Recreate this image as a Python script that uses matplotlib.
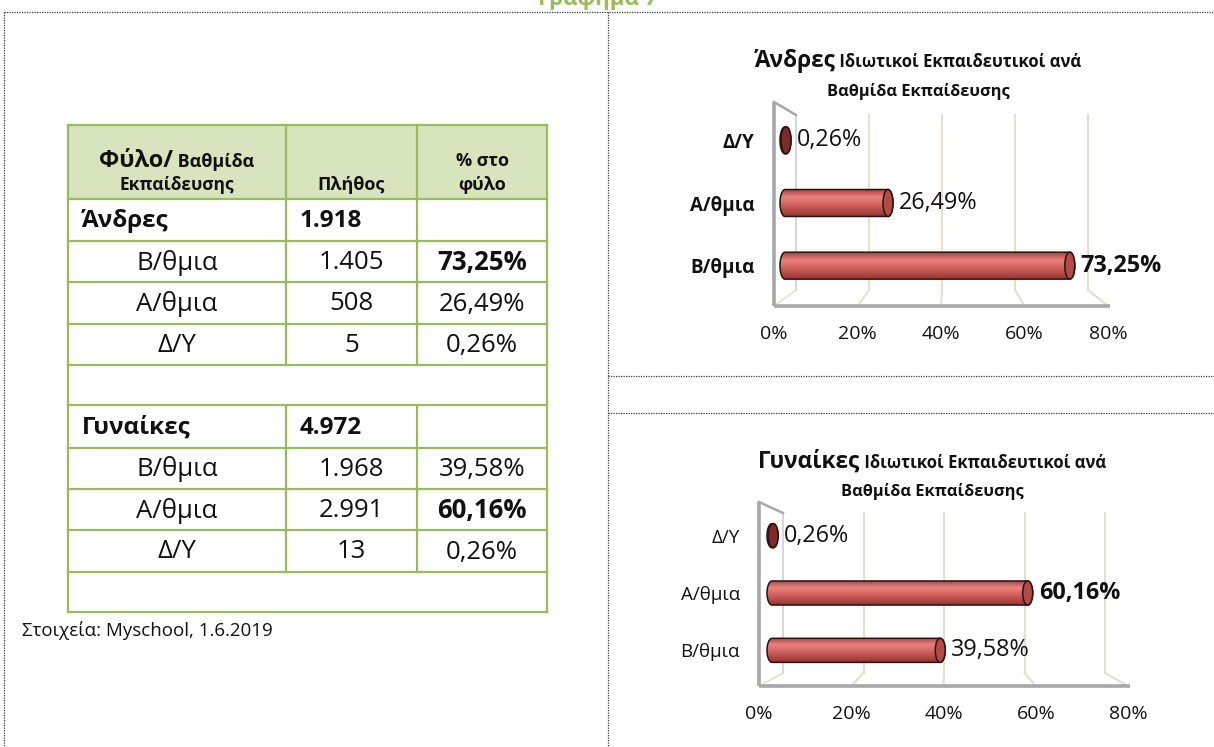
import numpy as np
import matplotlib
matplotlib.use("Agg")
import matplotlib.pyplot as plt
from matplotlib.patches import Rectangle, Ellipse, PathPatch
from matplotlib.path import Path
from matplotlib.colors import LinearSegmentedColormap

plt.rcParams['font.family'] = ['Open Sans', 'DejaVu Sans']

# ---------------- data ----------------
levels = ["Β/θμια", "Α/θμια", "Δ/Υ"]
groups = ["Άνδρες", "Γυναίκες"]
group_totals = [1918, 4972]
men_counts = [1405, 508, 5]
women_counts = [1968, 2991, 13]
men_pct = [73.25, 26.49, 0.26]
women_pct = [39.58, 60.16, 0.26]
pct_ticks = [0, 20, 40, 60, 80]
header_col1_big = "Φύλο/"
header_col1_small = " Βαθμίδα"
header_col1_line2 = "Εκπαίδευσης"
header_col2 = "Πλήθος"
header_col3 = ["% στο", "φύλο"]
source_text = "Στοιχεία: Myschool, 1.6.2019"
page_title = "Γράφημα 7"
chart_sub1 = " Ιδιωτικοί Εκπαιδευτικοί ανά"
chart_sub2 = "Βαθμίδα Εκπαίδευσης"

# ---------------- helpers ----------------
def fmt_int(n):
    return f"{n:,}".replace(",", ".")

def fmt_pct(p):
    return f"{p:.2f}%".replace(".", ",")

W, H = 1214, 747
fig = plt.figure(figsize=(W / 100, H / 100), dpi=100)
renderer = fig.canvas.get_renderer()

def fig_ax(x0, y0, x1, y1):
    return fig.add_axes([x0 / W, 1 - y1 / H, (x1 - x0) / W, (y1 - y0) / H])

page = fig_ax(0, 0, W, H)
page.set_xlim(0, W)
page.set_ylim(H, 0)
page.axis('off')

TXT = '#111111'
GREEN = '#9BBB59'

def mixed_line(cx, y, parts):
    texts = [page.text(0, y, s, fontsize=fs, fontweight=fw, va='baseline',
                       ha='left', color=TXT) for s, fs, fw in parts]
    widths = [t.get_window_extent(renderer).width for t in texts]
    x = cx - sum(widths) / 2
    for t, w in zip(texts, widths):
        t.set_x(x)
        x += w

# ---------------- page frame (dotted) ----------------
dot = dict(color='#3a3a3a', lw=0.9, ls=(0, (1, 1)))
page.plot([4, W], [12, 12], **dot)
page.plot([4, 4], [12, H], **dot)
page.plot([608, 608], [12, H], **dot)
page.plot([608, W], [376, 376], **dot)
page.plot([608, W], [413, 413], **dot)

page.text(598, 5, page_title, fontsize=16, fontweight='bold', color=GREEN,
          ha='center', va='baseline')

# ---------------- table ----------------
col_x = [68, 286, 417, 547]
row_y = [125, 199, 241, 282, 324, 365, 405, 448, 489, 530, 572, 612]
page.add_patch(Rectangle((col_x[0], row_y[0]), col_x[-1] - col_x[0],
                         row_y[1] - row_y[0], fc='#D7E4BD', ec='none'))
tl = dict(color=GREEN, lw=1.6, solid_capstyle='projecting')
for y in row_y:
    page.plot([col_x[0], col_x[-1]], [y, y], **tl)
for x in (col_x[0], col_x[-1]):
    page.plot([x, x], [row_y[0], row_y[-1]], **tl)
for x in col_x[1:-1]:
    page.plot([x, x], [row_y[0], row_y[5]], **tl)
    page.plot([x, x], [row_y[6], row_y[10]], **tl)

c1 = (col_x[0] + col_x[1]) / 2
c2 = (col_x[1] + col_x[2]) / 2
c3 = (col_x[2] + col_x[3]) / 2

HS = 13
mixed_line(c1, 167, [(header_col1_big, 17, 'bold'), (header_col1_small, HS, 'bold')])
page.text(c1, 190, header_col1_line2, fontsize=12.5, fontweight='bold', ha='center', va='baseline', color=TXT)
page.text(c2, 190, header_col2, fontsize=HS, fontweight='bold', ha='center', va='baseline', color=TXT)
page.text(c3, 166, header_col3[0], fontsize=HS, fontweight='bold', ha='center', va='baseline', color=TXT)
page.text(c3, 190, header_col3[1], fontsize=HS, fontweight='bold', ha='center', va='baseline', color=TXT)

for g, (name, total, counts, pcts) in enumerate(zip(groups, group_totals,
                                                    [men_counts, women_counts],
                                                    [men_pct, women_pct])):
    base = 1 + g * 5
    ym = (row_y[base] + row_y[base + 1]) / 2 + 1
    page.text(col_x[0] + 14, ym, name, fontsize=17.5, fontweight='bold', ha='left', va='center', color=TXT)
    page.text(col_x[1] + 14, ym, fmt_int(total), fontsize=17.5, fontweight='bold', ha='left', va='center', color=TXT)
    imax = int(np.argmax(pcts))
    for k, (lev, n, p) in enumerate(zip(levels, counts, pcts)):
        r = base + 1 + k
        ym = (row_y[r] + row_y[r + 1]) / 2 + 1
        page.text(c1, ym, lev, fontsize=18.5, ha='center', va='center', color=TXT)
        page.text(c2, ym, fmt_int(n), fontsize=18.5, ha='center', va='center', color=TXT)
        page.text(c3, ym, fmt_pct(p), fontsize=18.5, ha='center', va='center', color=TXT,
                  fontweight='bold' if k == imax else 'normal')

page.text(22, 631, source_text, fontsize=13.5, ha='left', va='center', color=TXT)

# ---------------- charts ----------------
cyl_cmap = LinearSegmentedColormap.from_list(
    'cyl', [(0.0, '#A8403D'), (0.3, '#E8837F'), (0.55, '#D56662'), (1.0, '#9A3431')])
grad = np.linspace(0, 1, 64).reshape(-1, 1)
CAP_PX = 5
LEFT_MARGIN_PX = 10
OUT = '#2A1212'
GRID = '#E4E0D0'
WALL = '#A8A8A8'


def draw_chart(name, pcts, geo, bold_labels):
    x0, x1, floor_y, wall_top = geo['front']
    bx0, bx1, bty, bby = geo['back']
    frame = fig_ax(x0, wall_top, x1, floor_y)
    frame.set_xlim(0, 80)
    frame.set_ylim(0, 1)
    frame.patch.set_visible(False)
    for s in frame.spines.values():
        s.set_visible(False)
    frame.set_yticks([])
    frame.set_xticks(pct_ticks, [f"{t}%" for t in pct_ticks])
    frame.tick_params(axis='x', length=0, pad=geo['tick_pad'], labelsize=14, labelcolor=TXT)
    span = x1 - x0

    def bx(v):
        return (bx0 - x0) / span * 80 + v * (bx1 - bx0) / span

    by_top = (floor_y - bty) / (floor_y - wall_top)
    by_bot = (floor_y - bby) / (floor_y - wall_top)
    for t in pct_ticks[1:]:
        frame.plot([bx(t), bx(t)], [by_bot, by_top], color=GRID, lw=1.5, clip_on=False)
        frame.plot([bx(t), t], [by_bot, 0], color=GRID, lw=1.5, clip_on=False)
    frame.plot([bx(0), bx(0)], [by_bot, by_top], color='#D0D0D0', lw=1.2, clip_on=False)
    frame.plot([0, bx(0)], [1, by_top], color=WALL, lw=1.8, clip_on=False)
    frame.plot([0, bx(0)], [0, by_bot], color=GRID, lw=1.2, clip_on=False)
    frame.plot([0, 0], [0, 1], color=WALL, lw=2.6, clip_on=False, solid_capstyle='butt')
    frame.plot([0, 80.5], [0, 0], color=WALL, lw=2.6, clip_on=False, solid_capstyle='butt')

    px_per_unit = (geo['bar_x80'] - geo['bar_x0']) / 80
    bax = fig_ax(geo['bar_x0'] - LEFT_MARGIN_PX, geo['bar_top'], geo['bar_x80'], geo['bar_bot'])
    bax.patch.set_visible(False)
    for s in bax.spines.values():
        s.set_visible(False)
    rx = CAP_PX / px_per_unit
    h = geo['bar_h']
    imax = int(np.argmax(pcts))
    t = np.linspace(0, np.pi, 40)
    for i, v in enumerate(pcts):
        lx = -rx * np.sin(t)
        ly = i + h / 2 * np.cos(t)
        rxs = v + rx * np.sin(t)
        rys = i - h / 2 * np.cos(t)
        verts = np.column_stack([np.r_[lx, rxs], np.r_[ly, rys]])
        verts = np.vstack([verts, verts[:1]])
        path = Path(verts, closed=True)
        body = PathPatch(path, fc='none', ec=OUT, lw=1.1, zorder=3, clip_on=False)
        bax.add_patch(body)
        im = bax.imshow(grad, cmap=cyl_cmap, extent=(-rx, v + rx, i - h / 2, i + h / 2),
                        aspect='auto', origin='upper', zorder=2, interpolation='bilinear')
        im.set_clip_path(body)
        small = v < 2
        bax.add_patch(Ellipse((v, i), 2 * rx, h, fc='#7E2A28' if small else '#B24B47',
                              ec=OUT, lw=1.1, zorder=4, clip_on=False))
        bax.annotate(fmt_pct(v), (v, i), xytext=(8, 0), textcoords='offset points',
                     va='center', ha='left', fontsize=16.8, color=TXT,
                     fontweight='bold' if i == imax else 'normal', annotation_clip=False)
    bax.set_xlim(-LEFT_MARGIN_PX / px_per_unit, 80)
    bax.set_ylim(-0.5, 2.5)
    bax.set_xticks([])
    bax.set_yticks(range(len(levels)), levels)
    bax.tick_params(axis='y', length=0, pad=geo['cat_pad'], labelsize=13.5, labelcolor=TXT)
    for lbl in bax.get_yticklabels():
        lbl.set_fontweight('bold' if bold_labels else 'normal')

    cx, yl1, yl2 = geo['title']
    mixed_line(cx, yl1, [(name, 16.3, 'bold'), (chart_sub1, 12, 'bold')])
    page.text(cx, yl2, chart_sub2, fontsize=11.8, fontweight='bold', ha='center',
              va='baseline', color=TXT)


geo_men = dict(front=(774, 1108, 306, 102), back=(796, 1088, 115, 290),
               bar_x0=785, bar_x80=1096, bar_top=109, bar_bot=297, bar_h=0.43,
               tick_pad=14, cat_pad=15, title=(918, 67, 96))
geo_women = dict(front=(759, 1128, 686, 502), back=(783, 1105, 513, 673),
                 bar_x0=772, bar_x80=1112, bar_top=507, bar_bot=679, bar_h=0.42,
                 tick_pad=14, cat_pad=16, title=(932, 468, 496))

draw_chart(groups[0], men_pct, geo_men, True)
draw_chart(groups[1], women_pct, geo_women, False)

fig.savefig("out.png", dpi=100)
